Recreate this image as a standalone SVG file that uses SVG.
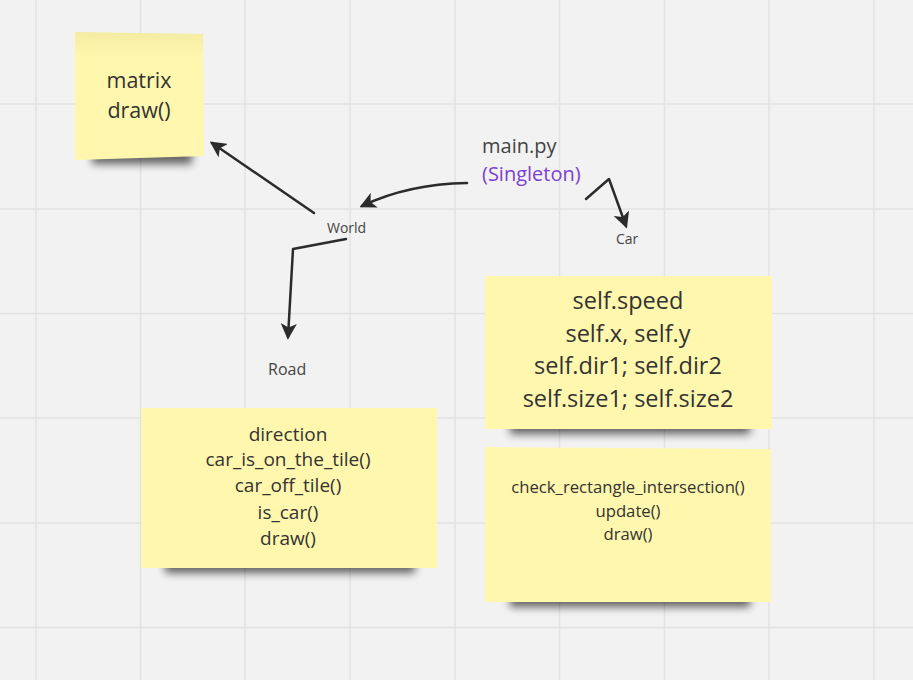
<svg xmlns="http://www.w3.org/2000/svg" width="913" height="680" viewBox="0 0 913 680">
<defs>
<style>
.grid{stroke:#e2e2e2;stroke-width:1.5}
.note{fill:#fff7ad}
.shadow{fill:#000;opacity:0.6;filter:url(#blur)}
.t{font-family:"Open Sans","Noto Sans",sans-serif;fill:#333;text-anchor:middle}
.lbl{font-family:"Open Sans","Noto Sans",sans-serif;fill:#444}
.conn{fill:none;stroke:#2b2b2b;stroke-width:2.5;stroke-linecap:round;stroke-linejoin:round}
</style>
<filter id="blur" x="-20%" y="-100%" width="140%" height="300%"><feGaussianBlur stdDeviation="4.5"/></filter>
<linearGradient id="topg" x1="0" y1="0" x2="0" y2="1">
<stop offset="0" stop-color="#f3eca2"/><stop offset="0.2" stop-color="#fff7ad"/><stop offset="1" stop-color="#fff7ad"/>
</linearGradient>
<marker id="ah" viewBox="0 0 12 12" refX="10" refY="6" markerWidth="6.5" markerHeight="6.5" orient="auto" markerUnits="strokeWidth">
<path d="M0,0 L12,6 L0,12 L3,6 Z" fill="#2b2b2b"/>
</marker>
</defs>
<rect width="913" height="680" fill="#f2f2f2"/>
<g id="grid">
<line class="grid" x1="36" y1="0" x2="36" y2="680"/>
<line class="grid" x1="140.5" y1="0" x2="140.5" y2="680"/>
<line class="grid" x1="245" y1="0" x2="245" y2="680"/>
<line class="grid" x1="350" y1="0" x2="350" y2="680"/>
<line class="grid" x1="455" y1="0" x2="455" y2="680"/>
<line class="grid" x1="559.5" y1="0" x2="559.5" y2="680"/>
<line class="grid" x1="664.5" y1="0" x2="664.5" y2="680"/>
<line class="grid" x1="769" y1="0" x2="769" y2="680"/>
<line class="grid" x1="874" y1="0" x2="874" y2="680"/>
<line class="grid" x1="0" y1="104" x2="913" y2="104"/>
<line class="grid" x1="0" y1="209" x2="913" y2="209"/>
<line class="grid" x1="0" y1="313.5" x2="913" y2="313.5"/>
<line class="grid" x1="0" y1="418" x2="913" y2="418"/>
<line class="grid" x1="0" y1="523" x2="913" y2="523"/>
<line class="grid" x1="0" y1="627.5" x2="913" y2="627.5"/>
</g>

<g id="note-matrix">
<rect class="shadow" x="92" y="150" width="100" height="14"/>
<polygon points="75,32 203,34 204,156 75,160" fill="url(#topg)"/>
<text class="t" font-size="21.5" x="139" y="88">matrix</text>
<text class="t" font-size="21.5" x="139" y="118">draw()</text>
</g>

<g id="note-car-attrs">
<rect class="shadow" x="510" y="419" width="240" height="15"/>
<rect class="note" x="485" y="276" width="287" height="153"/>
<text class="t" font-size="23.5" x="628" y="309">self.speed</text>
<text class="t" font-size="23.5" x="628" y="342">self.x, self.y</text>
<text class="t" font-size="23.5" x="628" y="374">self.dir1; self.dir2</text>
<text class="t" font-size="23.5" x="628" y="407">self.size1; self.size2</text>
</g>

<g id="note-road">
<rect class="shadow" x="165" y="558" width="250" height="15"/>
<rect class="note" x="141" y="408" width="296" height="160"/>
<text class="t" font-size="19" x="288" y="441">direction</text>
<text class="t" font-size="19" x="288" y="466">car_is_on_the_tile()</text>
<text class="t" font-size="19" x="288" y="492">car_off_tile()</text>
<text class="t" font-size="19" x="288" y="519">is_car()</text>
<text class="t" font-size="19" x="288" y="545">draw()</text>
</g>

<g id="note-car-methods">
<rect class="shadow" x="510" y="592" width="240" height="15"/>
<polygon class="note" points="485,447 771,449 771,602 485,602"/>
<text class="t" font-size="16.7" x="628" y="493">check_rectangle_intersection()</text>
<text class="t" font-size="16.7" x="628" y="517">update()</text>
<text class="t" font-size="16.7" x="628" y="540">draw()</text>
</g>

<g id="label-main">
<text class="lbl" font-size="20" x="482" y="153">main.py</text>
<text class="lbl" font-size="20" x="482" y="181" style="fill:#7d3fd0">(Singleton)</text>
</g>
<g id="label-world"><text class="lbl" font-size="14" x="327" y="233">World</text></g>
<g id="label-car"><text class="lbl" font-size="14" x="616" y="244">Car</text></g>
<g id="label-road"><text class="lbl" font-size="16" x="268" y="375">Road</text></g>

<g id="connectors">
<path class="conn" d="M314,213 L212,143" marker-end="url(#ah)"/>
<path class="conn" d="M467,183 Q408,184 362,206" marker-end="url(#ah)"/>
<path class="conn" d="M346,239 L293,249 L288,337" marker-end="url(#ah)"/>
<path class="conn" d="M586,199 L609,179 L626,226" marker-end="url(#ah)"/>
</g>
</svg>
